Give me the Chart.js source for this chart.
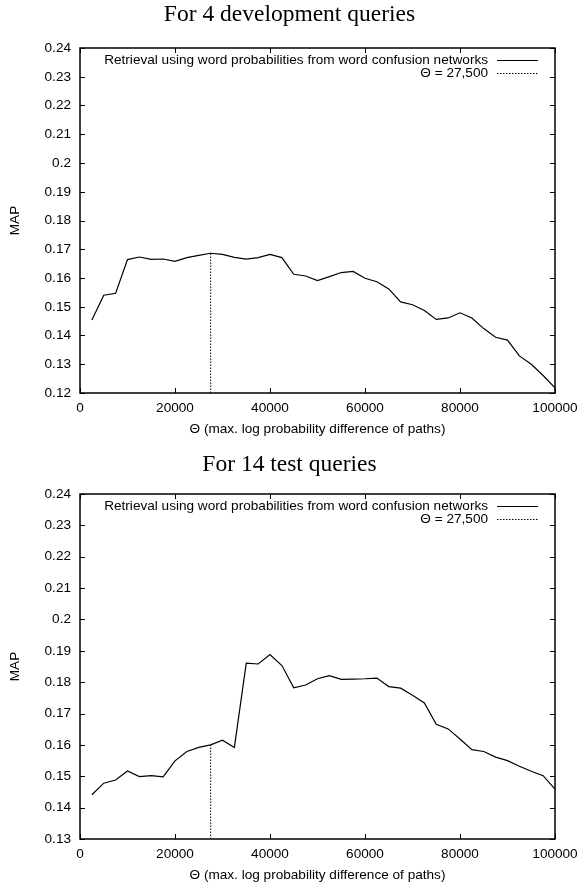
<!DOCTYPE html>
<html>
<head>
<meta charset="utf-8">
<script src="https://cdn.jsdelivr.net/npm/chart.js@4.4.1/dist/chart.umd.min.js"></script>
<style>
  html, body { margin: 0; padding: 0; background: #fff; }
  canvas { display: block; }
</style>
</head>
<body>
<canvas id="devChart" width="579" height="440"></canvas>
<canvas id="testChart" width="579" height="444"></canvas>
<script>
const thetas = [2500, 5000, 7500, 10000, 12500, 15000, 17500, 20000, 22500, 25000,
  27500, 30000, 32500, 35000, 37500, 40000, 42500, 45000, 47500, 50000,
  52500, 55000, 57500, 60000, 62500, 65000, 67500, 70000, 72500, 75000,
  77500, 80000, 82500, 85000, 87500, 90000, 92500, 95000, 97500, 100000];

const mapDev = [0.1454, 0.1540, 0.1547, 0.1664, 0.1673, 0.1665, 0.1666, 0.1658, 0.1671, 0.1679,
  0.1686, 0.1682, 0.1672, 0.1666, 0.1671, 0.1682, 0.1671, 0.1613, 0.1607, 0.1591,
  0.1605, 0.1619, 0.1623, 0.1599, 0.1587, 0.1562, 0.1517, 0.1507, 0.1487, 0.1456,
  0.1461, 0.1479, 0.1461, 0.1424, 0.1394, 0.1384, 0.1329, 0.1300, 0.1261, 0.1218];

const mapTest = [0.1441, 0.1478, 0.1488, 0.1517, 0.1499, 0.1502, 0.1498, 0.1549, 0.1579, 0.1592,
  0.1600, 0.1615, 0.1592, 0.1861, 0.1858, 0.1888, 0.1853, 0.1782, 0.1791, 0.1811,
  0.1821, 0.1809, 0.1810, 0.1811, 0.1813, 0.1786, 0.1781, 0.1758, 0.1734, 0.1666,
  0.1651, 0.1619, 0.1585, 0.1579, 0.1561, 0.1550, 0.1532, 0.1516, 0.1502, 0.1459];

const thetaMarker = 27500;
const xTicks = [0, 20000, 40000, 60000, 80000, 100000];
const yTicksDev = [0.12, 0.13, 0.14, 0.15, 0.16, 0.17, 0.18, 0.19, 0.2, 0.21, 0.22, 0.23, 0.24];
const yTicksTest = [0.13, 0.14, 0.15, 0.16, 0.17, 0.18, 0.19, 0.2, 0.21, 0.22, 0.23, 0.24];

const seriesLabel = 'Retrieval using word probabilities from word confusion networks';
const markerLabel = 'Θ = 27,500';
const xTitle = 'Θ (max. log probability difference of paths)';

const sansFont = { family: '"Liberation Sans", Arial, sans-serif', size: 13.6 };

// gnuplot style box: frame, inward ticks on all sides, legend and title
const framePlugin = {
  id: 'frame',
  afterDatasetsDraw(chart, args, opts) {
    const { ctx, chartArea: a, scales: { x, y } } = chart;
    ctx.save();
    ctx.strokeStyle = '#000';
    ctx.lineWidth = 1;
    ctx.beginPath();
    x.ticks.forEach(t => {
      const px = Math.round(x.getPixelForValue(t.value)) + 0.5;
      ctx.moveTo(px, a.bottom); ctx.lineTo(px, a.bottom - 5);
      ctx.moveTo(px, a.top); ctx.lineTo(px, a.top + 5);
    });
    y.ticks.forEach(t => {
      const py = Math.round(y.getPixelForValue(t.value)) + 0.5;
      ctx.moveTo(a.left, py); ctx.lineTo(a.left + 5, py);
      ctx.moveTo(a.right, py); ctx.lineTo(a.right - 5, py);
    });
    ctx.stroke();
    ctx.lineWidth = 1.5;
    ctx.strokeRect(a.left, a.top, a.right - a.left, a.bottom - a.top);

    // legend
    ctx.font = '13.6px "Liberation Sans", Arial, sans-serif';
    ctx.fillStyle = '#000';
    ctx.textAlign = 'right';
    ctx.textBaseline = 'middle';
    chart.data.datasets.forEach((ds, i) => {
      const ly = a.top + 12 + i * 13;
      ctx.fillText(ds.label, a.right - 67, ly);
      ctx.beginPath();
      ctx.lineWidth = 1;
      ctx.setLineDash(ds.borderDash || []);
      ctx.moveTo(a.right - 58, Math.round(ly) + 0.5);
      ctx.lineTo(a.right - 17, Math.round(ly) + 0.5);
      ctx.stroke();
      ctx.setLineDash([]);
    });

    // title
    ctx.font = '23.5px "Liberation Serif", "Times New Roman", serif';
    ctx.textAlign = 'center';
    ctx.textBaseline = 'alphabetic';
    ctx.fillText(opts.text, chart.width / 2, opts.baseline);
    ctx.restore();
  }
};

function makeChart(id, titleText, titleBaseline, values, yTicks, pad) {
  const ctx = document.getElementById(id).getContext('2d');
  const markerValue = values[thetas.indexOf(thetaMarker)];
  return new Chart(ctx, {
    type: 'line',
    data: {
      datasets: [
        {
          label: seriesLabel,
          data: thetas.map((t, i) => ({ x: t, y: values[i] })),
          borderColor: '#000',
          borderWidth: 1.2,
          pointRadius: 0,
          tension: 0,
          fill: false
        },
        {
          label: markerLabel,
          data: [{ x: thetaMarker, y: yTicks[0] }, { x: thetaMarker, y: markerValue }],
          borderColor: '#000',
          borderWidth: 1,
          borderDash: [1.5, 1.5],
          pointRadius: 0,
          fill: false
        }
      ]
    },
    options: {
      responsive: false,
      animation: false,
      devicePixelRatio: 1,
      layout: { padding: pad },
      plugins: {
        legend: { display: false },
        tooltip: { enabled: false },
        frame: { text: titleText, baseline: titleBaseline }
      },
      scales: {
        x: {
          type: 'linear',
          min: 0,
          max: 100000,
          afterBuildTicks: s => { s.ticks = xTicks.map(v => ({ value: v })); },
          afterFit: s => { s.height = 44; s.paddingLeft = 0; s.paddingRight = 0; },
          grid: { display: false, drawTicks: false },
          border: { display: false },
          ticks: {
            padding: 7,
            color: '#000',
            font: sansFont,
            maxRotation: 0,
            autoSkip: false,
            callback: v => String(v)
          },
          title: { display: true, text: xTitle, color: '#000', font: sansFont, padding: 0 }
        },
        y: {
          type: 'linear',
          min: yTicks[0],
          max: yTicks[yTicks.length - 1],
          afterBuildTicks: s => { s.ticks = yTicks.map(v => ({ value: v })); },
          afterFit: s => { s.width = 80; s.paddingTop = 0; s.paddingBottom = 0; },
          grid: { display: false, drawTicks: false },
          border: { display: false },
          ticks: {
            padding: 9,
            color: '#000',
            font: sansFont,
            autoSkip: false,
            callback: v => String(+v.toFixed(2))
          },
          title: { display: true, text: 'MAP', color: '#000', font: sansFont, padding: { top: 7, bottom: 0 } }
        }
      }
    },
    plugins: [framePlugin]
  });
}

makeChart('devChart', 'For 4 development queries', 20.7, mapDev, yTicksDev,
  { top: 48, right: 24, bottom: 3, left: 0 });
makeChart('testChart', 'For 14 test queries', 30.7, mapTest, yTicksTest,
  { top: 54, right: 24, bottom: 1, left: 0 });
</script>
</body>
</html>
